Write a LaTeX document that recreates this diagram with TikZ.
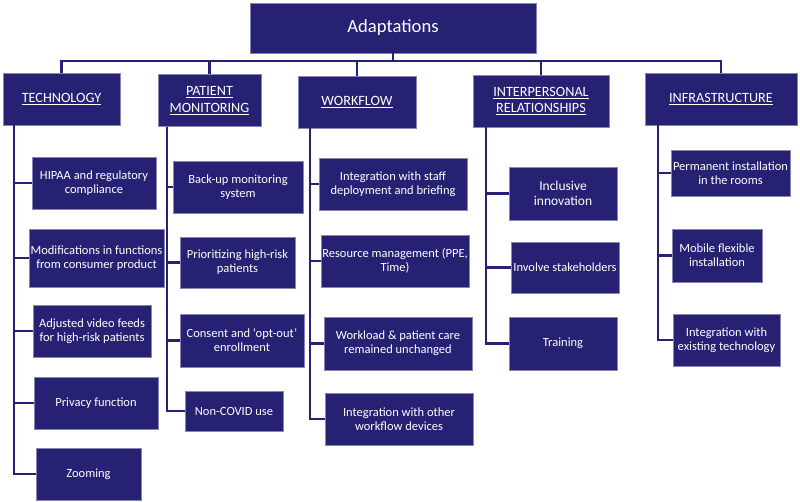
\documentclass[tikz,border=0pt]{standalone}
\usepackage{fontspec}
\setmainfont{Carlito}
\usepackage{xcolor}
\usepackage{tikz}
\usetikzlibrary{positioning}
\definecolor{navy}{RGB}{38,33,114}
\tikzset{
  box/.style     ={rectangle,fill=navy,draw=navy!55!white,line width=0.5pt,text=white,align=center,inner sep=0pt},
  titlebox/.style={box,minimum width=286pt,minimum height=50pt,font=\fontsize{18.6}{22}\selectfont},
  catbox/.style  ={box,minimum height=52pt,font=\fontsize{14.2}{16.5}\selectfont},
  item/.style    ={box,font=\fontsize{12.5}{14}\selectfont},
  link/.style    ={draw=navy,line width=2.4pt},
}

\begin{document}
\begin{tikzpicture}[x=1pt,y=-1pt]
  \useasboundingbox (0,0) rectangle (800,502);
  % top level
  \node[titlebox] (title) at (393,28) {Adaptations};
  \node[catbox,minimum width=117pt] (tech)  at (61.5,99)  {\underline{TECHNOLOGY}};
  \node[catbox,minimum width=103pt] (pm)    at (209.5,100.5) {\underline{PATIENT}\\\underline{MONITORING}};
  \node[catbox,minimum width=118pt] (wf)    at (357,102)  {\underline{WORKFLOW}};
  \node[catbox,minimum width=136pt] (ir)    at (541,101)  {\underline{INTERPERSONAL}\\\underline{RELATIONSHIPS}};
  \node[catbox,minimum width=152pt] (infra) at (721,99)   {\underline{INFRASTRUCTURE}};
  \coordinate (bus) at (393,61);
  \draw[link] (title.south) -- (bus);
  \foreach \c in {tech,pm,wf,ir,infra}
    \draw[link] (bus) -| (\c.north);

  % technology
  \node[item,minimum width=124pt,minimum height=52pt] (t1) at (94,183)   {HIPAA and regulatory\\compliance};
  \node[item,minimum width=135pt,minimum height=58pt] (t2) at (96.5,258) {Modifications in functions\\from consumer product};
  \node[item,minimum width=118pt,minimum height=52pt] (t3) at (92,331)   {Adjusted video feeds\\for high-risk patients};
  \node[item,minimum width=124pt,minimum height=52pt] (t4) at (96,403)   {Privacy function};
  \node[item,minimum width=105pt,minimum height=52pt] (t5) at (88.5,474) {Zooming};
  \coordinate (techT) at (14,125);
  \foreach \n in {t1,t2,t3,t4,t5}
    \draw[link] (techT) |- (\n.west);

  % patient monitoring
  \node[item,minimum width=130pt,minimum height=52pt] (p1) at (238,187)   {Back-up monitoring\\system};
  \node[item,minimum width=115pt,minimum height=51pt] (p2) at (237.5,262.5) {Prioritizing high-risk\\patients};
  \node[item,minimum width=124pt,minimum height=53pt] (p3) at (242,340.5) {Consent and ‘opt-out’\\enrollment};
  \node[item,minimum width=98pt,minimum height=40pt]  (p4) at (234,411)   {Non-COVID use};
  \coordinate (pmT) at (167,127);
  \foreach \n in {p1,p2,p3,p4}
    \draw[link] (pmT) |- (\n.west);

  % workflow
  \node[item,minimum width=148pt,minimum height=52pt] (w1) at (393,184)   {Integration with staff\\deployment and briefing};
  \node[item,minimum width=148pt,minimum height=52pt] (w2) at (395,261)   {Resource management (PPE,\\Time)};
  \node[item,minimum width=148pt,minimum height=53pt] (w3) at (398,343.5) {Workload \& patient care\\remained unchanged};
  \node[item,minimum width=148pt,minimum height=52pt] (w4) at (399,419)   {Integration with other\\workflow devices};
  \coordinate (wfT) at (310,128);
  \foreach \n in {w1,w2,w3,w4}
    \draw[link] (wfT) |- (\n.west);

  % interpersonal relationships
  \node[item,minimum width=108pt,minimum height=53pt,font=\fontsize{13.5}{15}\selectfont] (i1) at (563,193.5) {Inclusive\\innovation};
  \node[item,minimum width=108pt,minimum height=51pt] (i2) at (565,267.5) {Involve stakeholders};
  \node[item,minimum width=108pt,minimum height=53pt] (i3) at (563,343.5) {Training};
  \coordinate (irT) at (486,127);
  \foreach \n in {i1,i2,i3}
    \draw[link] (irT) |- (\n.west);

  % infrastructure
  \node[item,minimum width=119pt,minimum height=46pt] (f1) at (730.5,173) {Permanent installation\\in the rooms};
  \node[item,minimum width=90pt,minimum height=53pt]  (f2) at (717,255.5) {Mobile flexible\\installation};
  \node[item,minimum width=107pt,minimum height=52pt] (f3) at (726.5,340) {Integration with\\existing technology};
  \coordinate (infraT) at (658,125);
  \foreach \n in {f1,f2,f3}
    \draw[link] (infraT) |- (\n.west);
\end{tikzpicture}
\end{document}
